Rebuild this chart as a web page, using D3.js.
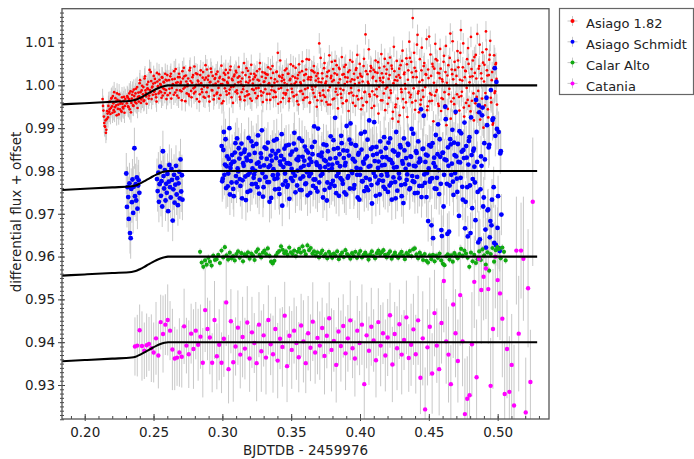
<!DOCTYPE html>
<html><head><meta charset="utf-8">
<script src="https://cdn.jsdelivr.net/npm/d3@7"></script>
<style>body{margin:0;background:#fff}svg{display:block;font-family:"DejaVu Sans",sans-serif}</style>
</head><body><svg id="chart" width="694" height="459"></svg>
<script>
const seriesNames=["Asiago 1.82","Asiago Schmidt","Calar Alto","Catania"];
const seriesColors=["#ff0000","#0000ff","#11aa11","#ff00ff"];
const xTicks=[0.20,0.25,0.30,0.35,0.40,0.45,0.50];
const yTicks=[0.93,0.94,0.95,0.96,0.97,0.98,0.99,1.00,1.01];
const xTitle="BJDTDB - 2459976";
const yTitle="differential flux + offset";

const asiagoT=[.2130,.2136,.2142,.2148,.2154,.2160,.2166,.2172,.2178,.2184,.2190,.2196,.2202,.2208,.2214,.2220,.2226,.2232,.2238,.2244,.2250,.2256,.2262,.2268,.2274,.2280,.2286,.2292,
.2306,.2312,.2318,.2324,.2330,.2336,.2342,.2348,.2354,.2360,.2366,.2372,.2378,.2384,.2390,.2396,.2402,.2408,.2414,.2420,.2426,.2432,.2438,.2444,.2450,.2456,.2462,.2468,.2474,.2480,.2486,.2492,.2498,.2504,.2510,.2516,.2522,.2528,.2534,.2540,.2546,.2552,.2558,.2564,.2570,.2576,.2582,.2588,.2594,.2600,
.2612,.2619,.2626,.2633,.2640,.2647,.2654,.2661,.2668,.2675,
.2682,.2689,.2696,.2703,.2710,.2717,.2724,.2731,.2738,.2745,
.2752,.2759,.2766,.2773,.2780,.2787,.2794,.2801,.2808,.2815,
.2822,.2829,.2836,.2843,.2850,.2857,.2864,.2871,.2878,.2885,
.2892,.2899,.2906,.2913,.2920,.2927,.2934,.2941,.2948,.2955,
.2962,.2969,.2976,.2983,.2990,.2997,.3004,.3011,.3018,.3025,
.3032,.3039,.3046,.3053,.3060,.3067,.3074,.3081,.3088,.3095,
.3102,.3109,.3116,.3123,.3130,.3137,.3144,.3151,.3158,.3165,
.3172,.3179,.3186,.3193,.3200,.3207,.3214,.3221,.3228,.3235,
.3242,.3249,.3256,.3263,.3270,.3277,.3284,.3291,.3298,.3305,
.3312,.3319,.3326,.3333,.3340,.3347,.3354,.3361,.3368,.3375,
.3382,.3389,.3396,.3403,.3410,.3417,.3424,.3431,.3438,.3445,
.3452,.3459,.3466,.3473,.3480,.3487,.3494,.3501,.3508,.3515,
.3522,.3529,.3536,.3543,.3550,.3557,.3564,.3571,.3578,.3585,
.3592,.3599,.3606,.3613,.3620,.3627,.3634,.3641,.3648,.3655,
.3662,.3669,.3676,.3683,.3690,.3697,.3704,.3711,.3718,.3725,
.3732,.3739,.3746,.3753,.3760,.3767,.3774,.3781,.3788,.3795,
.3802,.3809,.3816,.3823,.3830,.3837,.3844,.3851,.3858,.3865,
.3872,.3879,.3886,.3893,.3900,.3907,.3914,.3921,.3928,.3935,
.3942,.3949,.3956,.3963,.3970,.3977,.3984,.3991,.3998,.4005,
.4012,.4019,.4026,.4033,.4040,.4047,.4054,.4061,.4068,.4075,
.4082,.4089,.4096,.4103,.4110,.4117,.4124,.4131,.4138,.4145,
.4152,.4159,.4166,.4173,.4180,.4187,.4194,.4201,.4208,.4215,
.4222,.4229,.4236,.4243,.4250,.4257,.4264,.4271,.4278,.4285,
.4292,.4299,.4306,.4313,.4320,.4327,.4334,.4341,.4348,.4355,
.4362,.4369,.4376,.4383,.4390,.4397,.4404,.4411,.4418,.4425,
.4432,.4439,.4446,.4453,.4460,.4467,.4474,.4481,.4488,.4495,
.4502,.4509,.4516,.4523,.4530,.4537,.4544,.4551,.4558,.4565,
.4572,.4579,.4586,.4593,.4600,.4607,.4614,.4621,.4628,.4635,
.4642,.4649,.4656,.4663,.4670,.4677,.4684,.4691,.4698,.4705,
.4712,.4719,.4726,.4733,.4740,.4747,.4754,.4761,.4768,.4775,
.4782,.4789,.4796,.4803,.4810,.4817,.4824,.4831,.4838,.4845,
.4852,.4859,.4866,.4873,.4880,.4887,.4894,.4901,.4908,.4915,
.4922,.4929,.4936,.4943,.4950,.4957,.4964,.4971,.4978,.4985,
.4992];
const asiagoF=[.9968,.9941,.9912,.9903,.9889,.9921,.9934,.9952,.9938,.9962,.9947,.9971,.9936,.9958,.9984,.9949,.9962,.9930,.9966,.9955,.9979,.9944,.9961,.9938,.9957,.9946,.9973,.9952,
.9958,.9972,.9949,.9981,.9964,.9937,.9969,.9985,.9952,.9975,
.9961,.9992,.9968,.9947,.9983,.9974,1.0012,.9959,.9988,.9971,
.9996,.9965,1.0021,.9982,.9957,.9993,1.0008,.9976,.9989,1.0031,
.9968,.9997,1.0004,.9985,1.0015,.9979,.9962,1.0009,.9994,1.0026,
.9986,1.0001,.9971,1.0018,.9993,1.0007,.9982,1.0013,.9968,1.0024,
1.0012,.9982,1.0027,.9994,1.0003,.9978,1.0015,1.0038,.9989,1.0007,
.9971,1.0019,1.0004,.9986,1.0033,.9992,1.0021,.9963,1.0009,.9998,
1.0016,.9975,1.0041,.9987,1.0006,1.0024,.9981,.9996,1.0028,.9968,
1.0011,1.0002,.9979,1.0035,.9991,1.0018,.9973,1.0013,1.0047,.9984,
.9995,1.0022,.9962,1.0008,1.0031,.9988,1.0001,.9976,1.0017,1.0026,
.9983,1.0009,.9969,1.0020,1.0003,.9958,1.0014,1.0029,.9993,1.0036,
.9978,1.0005,1.0018,.9990,1.0044,.9972,1.0012,.9997,1.0025,.9985,
1.0030,.9981,1.0007,1.0021,.9967,1.0002,1.0016,.9991,1.0052,.9974,
1.0008,.9986,1.0034,.9979,1.0011,1.0027,.9964,1.0004,.9989,1.0019,
1.0023,.9970,1.0013,.9994,1.0038,1.0001,.9976,1.0031,.9983,1.0009,
.9991,1.0026,.9980,1.0042,1.0005,.9966,1.0017,.9998,1.0029,.9987,
1.0014,.9973,1.0032,1.0076,.9992,1.0020,.9961,1.0010,1.0024,.9982,
1.0006,.9978,1.0039,.9989,1.0027,.9969,1.0015,1.0002,.9984,1.0045,
.9975,1.0018,1.0008,.9963,1.0024,1.0049,.9986,1.0003,1.0033,.9980,
1.0011,.9971,1.0026,1.0061,.9994,1.0019,.9959,1.0013,1.0035,.9990,
.9982,1.0030,.9997,1.0022,.9965,1.0016,1.0098,.9976,1.0007,1.0028,
.9988,1.0040,.9973,1.0009,1.0021,.9955,1.0034,.9996,1.0017,1.0055,
.9967,1.0012,1.0028,.9985,1.0047,.9978,1.0006,1.0038,.9992,.9971,
1.0025,.9989,1.0043,1.0019,.9963,1.0008,1.0031,.9981,1.0059,.9994,
1.0014,.9959,1.0027,1.0003,1.0036,.9975,1.0018,.9988,1.0050,1.0022,
.9970,1.0009,1.0045,.9984,1.0119,.9961,1.0026,1.0004,.9979,1.0033,
1.0041,.9986,1.0020,.9952,1.0031,1.0010,.9974,1.0054,.9997,1.0017,
.9965,1.0028,1.0007,.9981,1.0062,.9992,1.0037,.9957,1.0015,1.0024,
.9988,1.0046,.9922,1.0005,1.0033,.9949,1.0020,1.0011,.9915,1.0039,
1.0018,.9991,1.0057,.9968,1.0026,1.0003,.9960,1.0049,1.0013,.9983,
1.0064,.9978,1.0030,1.0157,.9993,1.0041,.9964,1.0019,1.0118,.9986,
1.0008,.9955,1.0035,1.0012,.9973,1.0052,.9996,1.0025,.9942,1.0037,
1.0114,.9981,1.0022,.9964,1.0044,1.0006,.9976,1.0061,.9989,1.0029,
.9952,1.0017,1.0039,.9970,1.0009,1.0055,.9984,1.0031,.9907,1.0023,
1.0047,.9992,1.0121,.9962,1.0026,1.0014,.9956,1.0036,1.0002,.9979,
1.0058,.9973,1.0013,1.0129,.9985,1.0042,.9948,1.0019,1.0033,.9994,
.9966,1.0050,1.0007,.9939,1.0038,1.0021,.9981,1.0066,.9958,1.0016,
1.0120,.9987,1.0045,.9920,1.0028,.9969,1.0053,1.0009,.9953,1.0126,
1.0035,.9944,1.0024,1.0071,.9971,1.0012,.9908,1.0040,.9982,1.0049,
1.0015];
const asiagoT2=[.2133,.2139,.2145,.2151,.2157,.2163,.2169,.2175,.2181,.2187,.2193,.2199,.2205,.2211,.2217,.2223,.2229,.2235,.2241,.2247,.2253,.2259,.2265,.2271,.2277,.2283,.2289,.2295,
.2309,.2315,.2321,.2327,.2333,.2339,.2345,.2351,.2357,.2363,.2369,.2375,.2381,.2387,.2393,.2399,.2405,.2411,.2417,.2423,.2429,.2435,.2441,.2447,.2453,.2459,.2465,.2471,.2477,.2483,.2489,.2495,.2501,.2507,.2513,.2519,.2525,.2531,.2537,.2543,.2549,.2555,.2561,.2567,.2573,.2579,.2585,.2591,.2597,.2603,
.2615,.2622,.2629,.2636,.2643,.2650,.2657,.2664,.2671,.2678,
.2685,.2692,.2699,.2706,.2713,.2720,.2727,.2734,.2741,.2748,
.2755,.2762,.2769,.2776,.2783,.2790,.2797,.2804,.2811,.2818,
.2825,.2832,.2839,.2846,.2853,.2860,.2867,.2874,.2881,.2888,
.2895,.2902,.2909,.2916,.2923,.2930,.2937,.2944,.2951,.2958,
.2965,.2972,.2979,.2986,.2993,.3000,.3007,.3014,.3021,.3028,
.3035,.3042,.3049,.3056,.3063,.3070,.3077,.3084,.3091,.3098,
.3105,.3112,.3119,.3126,.3133,.3140,.3147,.3154,.3161,.3168,
.3175,.3182,.3189,.3196,.3203,.3210,.3217,.3224,.3231,.3238,
.3245,.3252,.3259,.3266,.3273,.3280,.3287,.3294,.3301,.3308,
.3315,.3322,.3329,.3336,.3343,.3350,.3357,.3364,.3371,.3378,
.3385,.3392,.3399,.3406,.3413,.3420,.3427,.3434,.3441,.3448,
.3455,.3462,.3469,.3476,.3483,.3490,.3497,.3504,.3511,.3518,
.3525,.3532,.3539,.3546,.3553,.3560,.3567,.3574,.3581,.3588,
.3595,.3602,.3609,.3616,.3623,.3630,.3637,.3644,.3651,.3658,
.3665,.3672,.3679,.3686,.3693,.3700,.3707,.3714,.3721,.3728,
.3735,.3742,.3749,.3756,.3763,.3770,.3777,.3784,.3791,.3798,
.3805,.3812,.3819,.3826,.3833,.3840,.3847,.3854,.3861,.3868,
.3875,.3882,.3889,.3896,.3903,.3910,.3917,.3924,.3931,.3938,
.3945,.3952,.3959,.3966,.3973,.3980,.3987,.3994,.4001,.4008,
.4015,.4022,.4029,.4036,.4043,.4050,.4057,.4064,.4071,.4078,
.4085,.4092,.4099,.4106,.4113,.4120,.4127,.4134,.4141,.4148,
.4155,.4162,.4169,.4176,.4183,.4190,.4197,.4204,.4211,.4218,
.4225,.4232,.4239,.4246,.4253,.4260,.4267,.4274,.4281,.4288,
.4295,.4302,.4309,.4316,.4323,.4330,.4337,.4344,.4351,.4358,
.4365,.4372,.4379,.4386,.4393,.4400,.4407,.4414,.4421,.4428,
.4435,.4442,.4449,.4456,.4463,.4470,.4477,.4484,.4491,.4498,
.4505,.4512,.4519,.4526,.4533,.4540,.4547,.4554,.4561,.4568,
.4575,.4582,.4589,.4596,.4603,.4610,.4617,.4624,.4631,.4638,
.4645,.4652,.4659,.4666,.4673,.4680,.4687,.4694,.4701,.4708,
.4715,.4722,.4729,.4736,.4743,.4750,.4757,.4764,.4771,.4778,
.4785,.4792,.4799,.4806,.4813,.4820,.4827,.4834,.4841,.4848,
.4855,.4862,.4869,.4876,.4883,.4890,.4897,.4904,.4911,.4918,
.4925,.4932,.4939,.4946,.4953,.4960,.4967,.4974,.4981,.4988,
.4995];
const asiagoF2=[.9952,.9927,.9905,.9918,.9896,.9940,.9925,.9961,.9944,.9933,.9969,.9951,.9975,.9942,.9938,.9970,.9953,.9981,.9945,.9932,.9964,.9957,.9940,.9972,.9949,.9963,.9936,.9968,
.9975,.9951,.9968,.9944,.9986,.9959,.9978,.9953,.9990,.9966,
.9981,.9958,.9996,.9973,.9962,1.0005,.9984,.9967,.9999,.9979,
.9963,1.0016,.9988,.9974,1.0002,.9991,.9969,1.0036,.9983,1.0010,
.9995,.9978,1.0022,.9987,1.0006,.9972,1.0029,.9998,.9981,1.0013,
1.0003,.9984,1.0019,.9976,1.0008,.9991,1.0027,.9989,1.0011,.9977,
.9992,1.0021,.9969,1.0014,1.0002,1.0033,.9983,1.0006,.9976,1.0019,
1.0027,.9988,1.0008,.9965,1.0016,1.0041,.9995,1.0023,.9981,1.0003,
.9979,1.0035,1.0010,.9972,1.0019,.9993,1.0044,.9985,1.0001,1.0026,
1.0009,.9962,1.0024,1.0005,.9984,1.0031,.9997,.9971,1.0018,1.0037,
1.0013,.9974,1.0007,1.0039,.9989,1.0022,.9967,1.0015,1.0004,.9980,
1.0032,.9994,1.0017,.9977,1.0046,1.0003,.9963,1.0012,1.0025,.9986,
1.0008,1.0029,.9981,1.0036,.9996,1.0015,.9959,1.0021,1.0002,1.0034,
.9988,1.0018,1.0043,.9973,1.0009,.9984,1.0030,.9998,.9965,1.0024,
1.0040,.9977,1.0006,1.0019,.9969,1.0048,.9991,1.0014,1.0027,.9982,
.9993,1.0033,.9975,1.0011,1.0052,.9986,1.0020,.9961,1.0008,1.0029,
1.0017,.9966,1.0025,1.0003,.9980,1.0038,.9989,1.0045,.9972,1.0006,
.9984,1.0031,1.0009,.9957,1.0022,1.0058,.9994,1.0018,.9970,1.0013,
1.0035,.9981,1.0002,1.0027,.9963,1.0012,1.0049,.9992,1.0021,.9974,
1.0004,1.0041,.9978,1.0016,.9955,1.0030,1.0007,.9987,1.0056,.9966,
1.0024,.9991,1.0037,.9972,1.0014,1.0060,.9960,1.0019,.9997,1.0033,
1.0045,.9973,1.0011,.9950,1.0028,1.0008,.9982,1.0064,.9964,1.0016,
.9977,1.0052,1.0005,.9961,1.0031,.9988,1.0070,.9955,1.0022,1.0009,
1.0038,.9969,1.0057,.9992,1.0025,.9946,1.0041,1.0014,.9980,1.0066,
.9958,1.0026,1.0003,1.0048,.9965,1.0018,.9940,1.0035,1.0009,.9983,
1.0055,.9976,1.0013,.9952,1.0040,1.0071,.9967,1.0006,1.0027,.9944,
1.0020,.9953,1.0062,.9985,1.0033,.9961,1.0008,1.0084,.9974,1.0045,
.9947,1.0017,1.0036,.9978,1.0058,.9991,1.0029,.9934,1.0041,1.0011,
1.0073,.9965,1.0018,1.0044,.9942,1.0027,.9996,1.0052,.9971,1.0065,
.9982,1.0039,.9938,1.0090,1.0012,.9955,1.0057,.9969,1.0024,.9930,
1.0047,.9984,1.0081,.9948,1.0030,.9992,1.0063,.9926,1.0035,1.0102,
.9972,1.0055,.9960,1.0019,1.0076,.9943,1.0033,1.0095,.9981,.9937,
1.0061,.9966,1.0088,.9988,1.0045,.9929,1.0026,1.0108,.9951,1.0017,
.9963,1.0072,.9978,1.0050,.9916,1.0039,1.0097,.9985,1.0058,.9957,
1.0028,1.0085,.9940,1.0014,.9968,1.0069,.9953,1.0092,1.0006,.9945,
.9979,1.0064,.9922,1.0037,1.0103,.9970,1.0055,.9934,1.0022,1.0080,
1.0042,.9941,1.0076,.9975,1.0011,1.0098,.9927,1.0034,.9959,1.0061,
1.0087,.9952,1.0020,1.0113,.9964,1.0058,.9918,1.0029,1.0071,.9973,
.9936,1.0039,1.0095,.9948,1.0016,1.0077,.9901,1.0048,.9982,1.0084,
1.0023,.9925,1.0060,1.0104,.9960,1.0031,.9912,1.0070,.9986,1.0052,
.9955];

const schmidtT=[.2302,.2307,.2311,.2316,.2320,.2325,.2329,.2334,.2338,.2343,.2347,.2352,.2356,.2361,.2365,.2370,.2374,.2379,.2383,.2388,.2392,.2397,
.2525,.2530,.2535,.2539,.2544,.2549,.2554,.2558,.2563,.2568,.2573,.2577,.2582,.2587,.2592,.2596,.2601,.2606,.2611,.2615,.2620,.2625,.2630,.2634,.2639,.2644,.2649,.2653,.2658,.2663,.2668,.2672,.2677,.2682,.2687,.2691,.2696,.2701,.2706,.2710,
.2995,.3003,.3011,.3019,.3027,.3035,.3043,.3051,.3059,.3067,
.3075,.3083,.3091,.3099,.3107,.3115,.3123,.3131,.3139,.3147,
.3155,.3163,.3171,.3179,.3187,.3195,.3203,.3211,.3219,.3227,
.3235,.3243,.3251,.3259,.3267,.3275,.3283,.3291,.3299,.3307,
.3315,.3323,.3331,.3339,.3347,.3355,.3363,.3371,.3379,.3387,
.3395,.3403,.3411,.3419,.3427,.3435,.3443,.3451,.3459,.3467,
.3475,.3483,.3491,.3499,.3507,.3515,.3523,.3531,.3539,.3547,
.3555,.3563,.3571,.3579,.3587,.3595,.3603,.3611,.3619,.3627,
.3635,.3643,.3651,.3659,.3667,.3675,.3683,.3691,.3699,.3707,
.3715,.3723,.3731,.3739,.3747,.3755,.3763,.3771,.3779,.3787,
.3795,.3803,.3811,.3819,.3827,.3835,.3843,.3851,.3859,.3867,
.3875,.3883,.3891,.3899,.3907,.3915,.3923,.3931,.3939,.3947,
.3955,.3963,.3971,.3979,.3987,.3995,.4003,.4011,.4019,.4027,
.4035,.4043,.4051,.4059,.4067,.4075,.4083,.4091,.4099,.4107,
.4115,.4123,.4131,.4139,.4147,.4155,.4163,.4171,.4179,.4187,
.4195,.4203,.4211,.4219,.4227,.4235,.4243,.4251,.4259,.4267,
.4275,.4283,.4291,.4299,.4307,.4315,.4323,.4331,.4339,.4347,
.4355,.4363,.4371,.4379,.4387,.4395,.4403,.4411,.4419,.4427,
.4435,.4443,.4451,.4459,.4467,.4475,.4483,.4491,.4499,.4507,
.4515,.4523,.4531,.4539,.4547,.4555,.4563,.4571,.4579,.4587,
.4595,.4603,.4611,.4619,.4627,.4635,.4643,.4651,.4659,.4667,
.4675,.4683,.4691,.4699,.4707,.4715,.4723,.4731,.4739,.4747,
.4755,.4763,.4771,.4779,.4787,.4795,.4803,.4811,.4819,.4827,
.4835,.4843,.4851,.4859,.4867,.4875,.4883,.4891,.4899,.4907,
.4915,.4923,.4931,.4939,.4947,.4955,.4963,.4971,.4979,.4987,
.4995,.5003,.5011,.5019,.5027];
const schmidtF=[.9794,.9716,.9762,.9739,.9688,.9771,.9655,.9643,.9758,.9727,.9780,.9702,.9763,.9853,.9741,.9769,.9731,.9785,.9712,.9766,.9778,.9749,
.9781,.9753,.9796,.9728,.9769,.9810,.9742,.9776,.9717,.9846,.9788,.9759,.9802,.9731,.9770,.9749,.9793,.9706,.9775,.9814,.9762,.9738,.9805,.9779,.9684,.9757,.9791,.9726,.9768,.9812,.9745,.9783,.9720,.9771,.9798,.9736,.9827,.9752,.9790,.9733,
.9858,.9782,.9891,.9815,.9760,.9834,.9794,.9900,.9807,.9773,
.9821,.9741,.9843,.9788,.9876,.9799,.9829,.9765,.9864,.9778,
.9812,.9850,.9732,.9825,.9791,.9838,.9754,.9869,.9806,.9784,
.9842,.9770,.9817,.9883,.9747,.9810,.9831,.9795,.9762,.9855,
.9786,.9828,.9866,.9774,.9813,.9737,.9847,.9804,.9781,.9840,
.9874,.9792,.9758,.9822,.9835,.9719,.9809,.9852,.9776,.9818,
.9767,.9861,.9816,.9783,.9845,.9796,.9889,.9750,.9827,.9801,
.9833,.9756,.9808,.9870,.9787,.9824,.9769,.9848,.9743,.9814,
.9829,.9794,.9856,.9765,.9904,.9780,.9820,.9752,.9837,.9811,
.9789,.9843,.9738,.9826,.9809,.9860,.9773,.9815,.9761,.9881,
.9806,.9777,.9851,.9924,.9748,.9819,.9795,.9839,.9783,.9865,
.9770,.9830,.9813,.9745,.9847,.9788,.9873,.9911,.9799,.9828,
.9759,.9822,.9859,.9791,.9838,.9733,.9805,.9850,.9776,.9817,
.9891,.9784,.9834,.9755,.9918,.9812,.9767,.9855,.9795,.9823,
.9742,.9840,.9807,.9778,.9869,.9790,.9832,.9763,.9814,.9853,
.9796,.9751,.9827,.9876,.9772,.9818,.9785,.9845,.9736,.9809,
.9836,.9794,.9860,.9767,.9823,.9725,.9848,.9805,.9779,.9864,
.9815,.9760,.9833,.9788,.9887,.9774,.9811,.9842,.9749,.9820,
.9829,.9944,.9765,.9852,.9792,.9821,.9739,.9836,.9806,.9775,
.9857,.9783,.9643,.9831,.9810,.9758,.9839,.9802,.9874,.9770,
.9648,.9843,.9791,.9950,.9825,.9653,.9812,.9766,.9862,.9817,
.9775,.9866,.9795,.9834,.9751,.9821,.9893,.9784,.9845,.9733,
.9830,.9666,.9858,.9762,.9815,.9879,.9655,.9837,.9781,.9852,
.9773,.9966,.9821,.9633,.9937,.9757,.9812,.9948,.9738,.9827,
.9621,.9907,.9710,.9861,.9683,.9673,.9919,.9762,1.0040,.9627,
.9898,.9741,.9619,.9841,.9698];
const schmidtT2=[.2999,.3007,.3015,.3023,.3031,.3039,.3047,.3055,.3063,.3071,
.3079,.3087,.3095,.3103,.3111,.3119,.3127,.3135,.3143,.3151,
.3159,.3167,.3175,.3183,.3191,.3199,.3207,.3215,.3223,.3231,
.3239,.3247,.3255,.3263,.3271,.3279,.3287,.3295,.3303,.3311,
.3319,.3327,.3335,.3343,.3351,.3359,.3367,.3375,.3383,.3391,
.3399,.3407,.3415,.3423,.3431,.3439,.3447,.3455,.3463,.3471,
.3479,.3487,.3495,.3503,.3511,.3519,.3527,.3535,.3543,.3551,
.3559,.3567,.3575,.3583,.3591,.3599,.3607,.3615,.3623,.3631,
.3639,.3647,.3655,.3663,.3671,.3679,.3687,.3695,.3703,.3711,
.3719,.3727,.3735,.3743,.3751,.3759,.3767,.3775,.3783,.3791,
.3799,.3807,.3815,.3823,.3831,.3839,.3847,.3855,.3863,.3871,
.3879,.3887,.3895,.3903,.3911,.3919,.3927,.3935,.3943,.3951,
.3959,.3967,.3975,.3983,.3991,.3999,.4007,.4015,.4023,.4031,
.4039,.4047,.4055,.4063,.4071,.4079,.4087,.4095,.4103,.4111,
.4119,.4127,.4135,.4143,.4151,.4159,.4167,.4175,.4183,.4191,
.4199,.4207,.4215,.4223,.4231,.4239,.4247,.4255,.4263,.4271,
.4279,.4287,.4295,.4303,.4311,.4319,.4327,.4335,.4343,.4351,
.4359,.4367,.4375,.4383,.4391,.4399,.4407,.4415,.4423,.4431,
.4439,.4447,.4455,.4463,.4471,.4479,.4487,.4495,.4503,.4511,
.4519,.4527,.4535,.4543,.4551,.4559,.4567,.4575,.4583,.4591,
.4599,.4607,.4615,.4623,.4631,.4639,.4647,.4655,.4663,.4671,
.4679,.4687,.4695,.4703,.4711,.4719,.4727,.4735,.4743,.4751,
.4759,.4767,.4775,.4783,.4791,.4799,.4807,.4815,.4823,.4831,
.4839,.4847,.4855,.4863,.4871,.4879,.4887,.4895,.4903,.4911,
.4919,.4927,.4935,.4943,.4951,.4959,.4967,.4975,.4983,.4991,
.4999,.5007,.5015,.5023];
const schmidtF2=[.9776,.9849,.9791,.9874,.9811,.9764,.9828,.9745,.9816,.9837,
.9758,.9822,.9865,.9773,.9806,.9853,.9781,.9840,.9736,.9818,
.9844,.9787,.9831,.9751,.9877,.9796,.9823,.9769,.9858,.9792,
.9800,.9863,.9762,.9820,.9779,.9841,.9895,.9740,.9813,.9785,
.9852,.9774,.9809,.9728,.9836,.9824,.9790,.9871,.9757,.9830,
.9783,.9847,.9746,.9815,.9886,.9768,.9827,.9794,.9859,.9763,
.9818,.9735,.9838,.9805,.9777,.9864,.9789,.9850,.9766,.9825,
.9876,.9782,.9755,.9833,.9812,.9857,.9771,.9797,.9843,.9788,
.9749,.9821,.9839,.9780,.9868,.9760,.9814,.9899,.9773,.9808,
.9834,.9793,.9862,.9756,.9823,.9731,.9846,.9802,.9829,.9769,
.9815,.9872,.9765,.9830,.9788,.9853,.9742,.9811,.9882,.9778,
.9848,.9750,.9819,.9905,.9784,.9836,.9759,.9864,.9795,.9827,
.9767,.9860,.9807,.9738,.9842,.9791,.9887,.9776,.9821,.9753,
.9829,.9762,.9873,.9810,.9780,.9851,.9724,.9837,.9914,.9787,
.9856,.9771,.9822,.9745,.9845,.9813,.9777,.9879,.9758,.9832,
.9789,.9866,.9766,.9825,.9733,.9848,.9808,.9774,.9891,.9754,
.9840,.9783,.9855,.9741,.9817,.9876,.9769,.9830,.9792,.9861,
.9757,.9834,.9898,.9776,.9812,.9748,.9846,.9786,.9869,.9765,
.9823,.9739,.9851,.9929,.9772,.9838,.9795,.9683,.9860,.9781,
.9673,.9865,.9818,.9759,.9884,.9784,.9909,.9746,.9833,.9662,
.9842,.9717,.9827,.9921,.9770,.9855,.9658,.9874,.9791,.9896,
.9744,.9837,.9938,.9782,.9863,.9695,.9820,.9888,.9763,.9849,
.9913,.9728,.9831,.9647,.9870,.9766,.9925,.9713,.9847,.9810,
.9685,.9891,.9751,.9953,.9640,.9834,.9930,.9717,.9865,.9663,
.9971,.9708,.9855,.9645,.9989,.9733,.9923,.9632,.9882,1.0008,
.9667,.9891,.9613,.9846];

const calarT=[.2838,.2850,.2862,.2874,.2886,.2898,.2910,.2922,.2934,.2946,
.2958,.2970,.2982,.2994,.3006,.3018,.3030,.3042,.3054,.3066,
.3078,.3090,.3102,.3114,.3126,.3138,.3150,.3162,.3174,.3186,
.3198,.3210,.3222,.3234,.3246,.3258,.3270,.3282,.3294,.3306,
.3318,.3330,.3342,.3354,.3366,.3378,.3390,.3402,.3414,.3426,
.3438,.3450,.3462,.3474,.3486,.3498,.3510,.3522,.3534,.3546,
.3558,.3570,.3582,.3594,.3606,.3618,.3630,.3642,.3654,.3666,
.3678,.3690,.3702,.3714,.3726,.3738,.3750,.3762,.3774,.3786,
.3798,.3810,.3822,.3834,.3846,.3858,.3870,.3882,.3894,.3906,
.3918,.3930,.3942,.3954,.3966,.3978,.3990,.4002,.4014,.4026,
.4038,.4050,.4062,.4074,.4086,.4098,.4110,.4122,.4134,.4146,
.4158,.4170,.4182,.4194,.4206,.4218,.4230,.4242,.4254,.4266,
.4278,.4290,.4302,.4314,.4326,.4338,.4350,.4362,.4374,.4386,
.4398,.4410,.4422,.4434,.4446,.4458,.4470,.4482,.4494,.4506,
.4518,.4530,.4542,.4554,.4566,.4578,.4590,.4602,.4614,.4626,
.4638,.4650,.4662,.4674,.4686,.4698,.4710,.4722,.4734,.4746,
.4758,.4770,.4782,.4794,.4806,.4818,.4830,.4842,.4854,.4866,
.4878,.4890,.4902,.4914,.4926,.4938,.4950,.4962,.4974,.4986,
.4998,.5010,.5022,.5034,.5046,.5058];
const calarF=[.9611,.9586,.9576,.9591,.9581,.9597,.9588,.9579,.9602,.9592,
.9594,.9604,.9585,.9614,.9598,.9622,.9603,.9593,.9609,.9596,
.9601,.9591,.9606,.9612,.9597,.9608,.9589,.9605,.9602,.9610,
.9595,.9607,.9603,.9592,.9611,.9617,.9604,.9598,.9609,.9614,
.9606,.9619,.9602,.9588,.9584,.9590,.9603,.9609,.9613,.9624,
.9616,.9608,.9612,.9604,.9621,.9610,.9606,.9614,.9601,.9611,
.9618,.9609,.9624,.9613,.9605,.9626,.9615,.9620,.9607,.9612,
.9603,.9610,.9598,.9608,.9614,.9601,.9606,.9596,.9611,.9605,
.9597,.9607,.9602,.9612,.9594,.9604,.9609,.9599,.9615,.9606,
.9602,.9595,.9608,.9601,.9611,.9597,.9606,.9613,.9598,.9604,
.9609,.9603,.9593,.9605,.9612,.9601,.9596,.9608,.9614,.9606,
.9610,.9615,.9604,.9598,.9607,.9612,.9595,.9603,.9609,.9601,
.9597,.9606,.9611,.9602,.9594,.9608,.9604,.9613,.9601,.9617,
.9619,.9605,.9596,.9609,.9602,.9592,.9606,.9590,.9586,.9603,
.9594,.9604,.9589,.9602,.9597,.9607,.9591,.9583,.9580,.9601,
.9605,.9593,.9603,.9588,.9608,.9601,.9596,.9606,.9618,.9602,
.9614,.9607,.9597,.9576,.9609,.9589,.9604,.9585,.9594,.9612,
.9592,.9617,.9603,.9581,.9610,.9567,.9606,.9620,.9588,.9615,
.9622,.9618,.9596,.9621,.9611,.9591];

const cataniaT=[.2365,.2382,.2399,.2416,.2433,.2450,.2467,.2484,.2501,.2518,
.2535,.2552,.2569,.2586,.2603,.2620,.2637,.2654,.2671,.2688,
.2705,.2722,.2739,.2756,.2773,.2790,.2807,.2824,.2841,.2858,
.2875,.2892,.2909,.2926,.2943,.2960,.2977,.2994,.3011,.3028,
.3045,.3062,.3079,.3096,.3113,.3130,.3147,.3164,.3181,.3198,
.3215,.3232,.3249,.3266,.3283,.3300,.3317,.3334,.3351,.3368,
.3385,.3402,.3419,.3436,.3453,.3470,.3487,.3504,.3521,.3538,
.3555,.3572,.3589,.3606,.3623,.3640,.3657,.3674,.3691,.3708,
.3725,.3742,.3759,.3776,.3793,.3810,.3827,.3844,.3861,.3878,
.3895,.3912,.3929,.3946,.3963,.3980,.3997,.4014,.4031,.4048,
.4065,.4082,.4099,.4116,.4133,.4150,.4167,.4184,.4201,.4218,
.4235,.4252,.4269,.4286,.4303,.4320,.4337,.4354,.4371,.4388,
.4405,.4422,.4439,.4456,.4473,.4490,.4507,.4524,.4541,.4558,
.4575,.4592,.4609,.4626,.4643,.4660,.4677,.4694,.4711,.4728,
.4745,.4762,.4779,.4796,.4813,.4830,.4847,.4864,.4881,.4898,
.4915,.4932,.4949,.4966,.4983,.5000,.5017,.5034,.5051,.5068,
.5085,.5102,.5119,.5136,.5153,.5170,.5187,.5204,.5221,.5238,
.5255];
const cataniaF=[.9390,.9392,.9428,.9391,.9380,.9393,.9396,.9386,.9376,.9409,
.9369,.9447,.9419,.9441,.9452,.9427,.9383,.9362,.9364,.9376,
.9366,.9437,.9392,.9372,.9420,.9384,.9427,.9394,.9413,.9352,
.9475,.9431,.9411,.9352,.9452,.9367,.9394,.9352,.9408,.9493,
.9337,.9449,.9353,.9390,.9434,.9371,.9412,.9385,.9446,.9362,
.9423,.9398,.9351,.9441,.9379,.9416,.9364,.9452,.9395,.9372,
.9431,.9357,.9408,.9389,.9462,.9344,.9415,.9382,.9427,.9398,
.9365,.9439,.9402,.9351,.9421,.9387,.9448,.9376,.9410,.9392,
.9433,.9368,.9415,.9456,.9382,.9403,.9347,.9425,.9391,.9438,
.9374,.9409,.9451,.9386,.9362,.9427,.9398,.9441,.9302,.9416,
.9380,.9436,.9404,.9358,.9447,.9392,.9421,.9369,.9411,.9463,
.9348,.9419,.9386,.9442,.9371,.9405,.9458,.9363,.9394,.9430,
.9372,.9451,.9317,.9409,.9243,.9388,.9436,.9327,.9468,.9392,
.9337,.9445,.9543,.9402,.9371,.9302,.9488,.9421,.9356,.9510,
.9402,.9232,.9268,.9276,.9395,.9541,.9318,.9595,.9522,.9553,
.9572,.9524,.9298,.9431,.9600,.9545,.9514,.9455,.9279,.9384,
.9284,.9347,.9252,.9614,.9420,.9614,.9595,.9236,.9526,.9307,
.9728];
const cataniaErr=[.0068,.0072,.0060,.0081,.0066,.0074,.0063,.0079,.0070,.0085,
.0077,.0064,.0090,.0071,.0083,.0069,.0095,.0074,.0066,.0080,
.0072,.0088,.0065,.0079,.0070,.0093,.0067,.0084,.0075,.0081,
.0098,.0073,.0086,.0069,.0091,.0077,.0083,.0071,.0089,.0102,
.0080,.0075,.0092,.0068,.0087,.0079,.0094,.0072,.0085,.0078,
.0083,.0070,.0089,.0076,.0095,.0073,.0086,.0081,.0072,.0090,
.0075,.0088,.0071,.0093,.0079,.0084,.0069,.0091,.0077,.0086,
.0082,.0074,.0096,.0070,.0087,.0078,.0092,.0073,.0085,.0080,
.0071,.0090,.0076,.0084,.0097,.0072,.0088,.0079,.0083,.0074,
.0086,.0078,.0093,.0070,.0089,.0081,.0075,.0094,.0100,.0077,
.0080,.0091,.0073,.0087,.0079,.0095,.0072,.0084,.0090,.0076,
.0088,.0075,.0098,.0081,.0093,.0070,.0086,.0079,.0096,.0083,
.0092,.0104,.0085,.0110,.0098,.0089,.0115,.0094,.0101,.0087,
.0108,.0095,.0120,.0099,.0112,.0091,.0125,.0103,.0097,.0118,
.0105,.0130,.0099,.0115,.0122,.0108,.0135,.0111,.0126,.0102,
.0118,.0128,.0112,.0140,.0121,.0133,.0109,.0137,.0124,.0115,
.0130,.0119,.0142,.0126,.0135,.0112,.0145,.0128,.0138,.0122,
.0150];
const seriesErr=[0.0024,0.0048,0.0008,null];

const modelT=[0.1835,0.2000,0.2200,0.2340,0.2370,0.2400,0.2430,0.2460,0.2490,0.2520,0.2550,0.2580,0.2605,0.2625,0.5287];
const modelF=[0.99556,0.99583,0.99617,0.99641,0.99662,0.99705,0.99755,0.99810,0.99865,0.99915,0.99956,0.99985,0.99998,1.00000,1.00000];
const modelOffsets=[0,-0.02,-0.04,-0.06];

const P={l:62,t:8.7,r:549,b:419};
const x=d3.scaleLinear().domain([0.1835,0.5373]).range([P.l,P.r]);
const y=d3.scaleLinear().domain([0.92206,1.0179]).range([P.b,P.t]);
const svg=d3.select("#chart");
svg.append("defs").append("clipPath").attr("id","pc").append("rect")
  .attr("x",P.l).attr("y",P.t).attr("width",P.r-P.l).attr("height",P.b-P.t);

function pairs(T,F,E){const n=Math.min(T.length,F.length);return d3.range(n).map(i=>({t:T[i],f:F[i],e:Array.isArray(E)?E[i]:E}));}
const series=[
  {pts:pairs(asiagoT,asiagoF,seriesErr[0]).concat(pairs(asiagoT2,asiagoF2,seriesErr[0])),r:1.35},
  {pts:pairs(schmidtT,schmidtF,seriesErr[1]).concat(pairs(schmidtT2,schmidtF2,seriesErr[1])),r:2.4},
  {pts:pairs(calarT,calarF,seriesErr[2]),r:2.1},
  {pts:pairs(cataniaT,cataniaF,cataniaErr),r:2.2}
].map((s,k)=>Object.assign(s,{color:seriesColors[k],name:seriesNames[k]}));

const gData=svg.append("g").attr("clip-path","url(#pc)");
const gErr=gData.append("g"), gPts=gData.append("g");
series.forEach(s=>{
  gErr.append("g").selectAll("line").data(s.pts).join("line")
    .attr("x1",d=>x(d.t)).attr("x2",d=>x(d.t))
    .attr("y1",d=>y(d.f-d.e)).attr("y2",d=>y(d.f+d.e))
    .attr("stroke","#c8c8c8").attr("stroke-width",1);
});
series.forEach(s=>{
  gPts.append("g").selectAll("circle").data(s.pts).join("circle")
    .attr("cx",d=>x(d.t)).attr("cy",d=>y(d.f)).attr("r",s.r).attr("fill",s.color);
});
const model=modelT.map((t,i)=>({t,f:modelF[i]}));
modelOffsets.forEach(off=>{
  gData.append("path").datum(model)
    .attr("d",d3.line().x(d=>x(d.t)).y(d=>y(d.f+off)).curve(d3.curveMonotoneX))
    .attr("fill","none").attr("stroke","#000").attr("stroke-width",2.1);
});

const fmt=d3.format(".2f");
const yMinor=d3.range(922,1018).map(v=>v/1000);
const xMinor=d3.range(19,54).map(v=>v/100);
function ax(gen,tr){const g=svg.append("g").attr("transform",tr).call(gen);g.select(".domain").remove();g.selectAll("line").attr("stroke","#444");return g;}
const tl=`translate(${P.l},0)`, tb=`translate(0,${P.b})`;
ax(d3.axisLeft(y).tickValues(yMinor).tickFormat("").tickSize(2),tl);
ax(d3.axisLeft(y).tickValues(yMinor).tickFormat("").tickSize(-2),tl);
ax(d3.axisLeft(y).tickValues(yTicks).tickFormat("").tickSize(-3),tl);
const gy=ax(d3.axisLeft(y).tickValues(yTicks).tickFormat(fmt).tickSize(4).tickPadding(3),tl);
ax(d3.axisBottom(x).tickValues(xMinor).tickFormat("").tickSize(-3),tb);
ax(d3.axisBottom(x).tickValues(xTicks).tickFormat("").tickSize(-5),tb);
const gx=ax(d3.axisBottom(x).tickValues(xTicks).tickFormat(fmt).tickSize(2).tickPadding(6),tb);
[gy,gx].forEach(g=>g.selectAll("text").attr("font-size",13.5).attr("font-family","DejaVu Sans").attr("fill","#222"));

svg.append("rect").attr("x",P.l).attr("y",P.t).attr("width",P.r-P.l).attr("height",P.b-P.t)
  .attr("fill","none").attr("stroke","#555").attr("stroke-width",1.3);

svg.append("text").attr("x",(P.l+P.r)/2).attr("y",455).attr("text-anchor","middle")
  .attr("font-size",13.5).attr("fill","#222").text(xTitle);
svg.append("text").attr("transform","translate(21,212) rotate(-90)").attr("text-anchor","middle")
  .attr("font-size",13.5).attr("fill","#222").text(yTitle);

const lg=svg.append("g");
lg.append("rect").attr("x",559.5).attr("y",8.5).attr("width",134).attr("height",86)
  .attr("fill","#fff").attr("stroke","#666").attr("stroke-width",1.2);
series.forEach((s,i)=>{
  const yy=21+i*20.8, xx=572.5;
  lg.append("line").attr("x1",xx-5).attr("x2",xx+5).attr("y1",yy).attr("y2",yy).attr("stroke","#c8c8c8");
  lg.append("line").attr("x1",xx).attr("x2",xx).attr("y1",yy-5).attr("y2",yy+5).attr("stroke","#c8c8c8");
  lg.append("circle").attr("cx",xx).attr("cy",yy).attr("r",2).attr("fill",s.color);
  lg.append("text").attr("x",586).attr("y",yy+7.3).attr("font-size",13).attr("fill","#222").text(s.name);
});
</script></body></html>
